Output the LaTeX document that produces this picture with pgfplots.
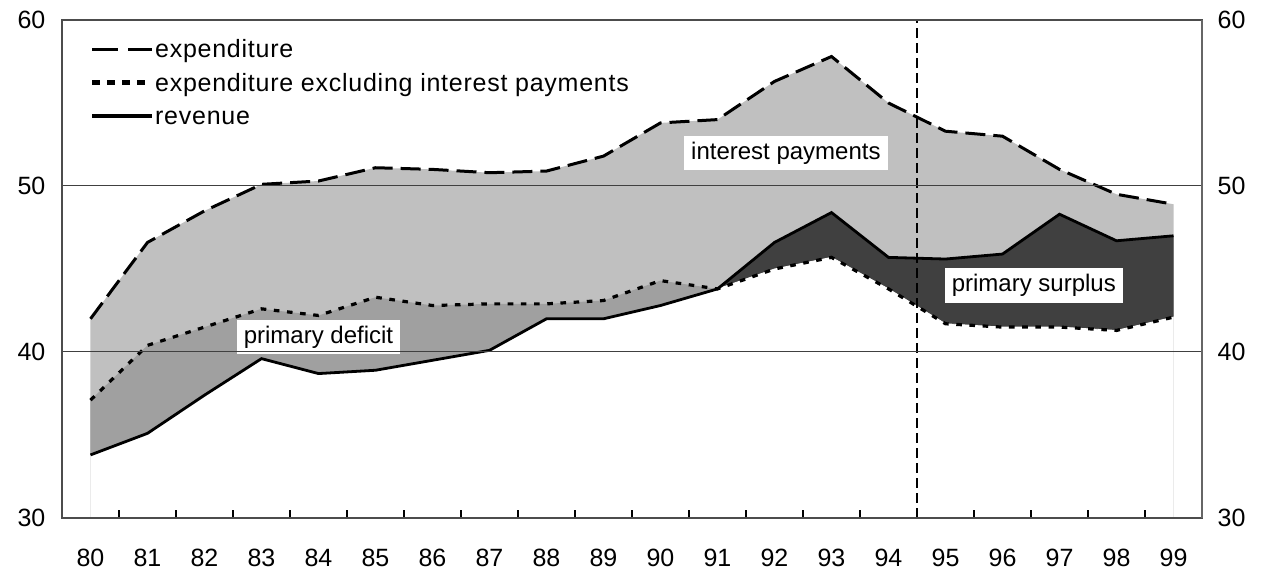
\documentclass[border=0pt]{standalone}
\usepackage{pgfplots}
\pgfplotsset{compat=1.18}
\usepackage{pgfplotstable}
\usepackage{fontspec}
\setmainfont{Liberation Sans}
\newfontfamily\legfont{Liberation Sans}[LetterSpace=3]

\pgfplotstableread{
year exp excl rev
80 42.0 37.1 33.8
81 46.6 40.4 35.1
82 48.5 41.5 37.4
83 50.1 42.6 39.6
84 50.3 42.2 38.7
85 51.1 43.3 38.9
86 51.0 42.8 39.5
87 50.8 42.9 40.1
88 50.9 42.9 42.0
89 51.8 43.1 42.0
90 53.8 44.3 42.8
91 54.0 43.8 43.8
92 56.3 45.0 46.6
93 57.8 45.7 48.4
94 55.0 43.8 45.7
95 53.3 41.7 45.6
96 53.0 41.5 45.9
97 51.0 41.5 48.3
98 49.5 41.3 46.7
99 48.9 42.1 47.0
}\data

\definecolor{lgray}{HTML}{C0C0C0}
\definecolor{mgray}{HTML}{A0A0A0}
\definecolor{dgray}{HTML}{404040}

\begin{document}
\begin{tikzpicture}
\begin{axis}[name=main, scale only axis, width=570pt, height=249pt,
  xmin=79.5, xmax=99.5, ymin=30, ymax=60,
  xtick={80,...,99}, ytick={30,40,50,60},
  minor xtick={80.5,81.5,...,98.5},
  major tick length=0pt, minor tick length=4pt,
  tick align=inside, xtick pos=bottom, ytick pos=left,
  minor tick style={black, line width=0.8pt},
  ymajorgrids, grid style={black!75, line width=0.5pt},
  axis on top,
  axis line style={black!70, line width=0.7pt},
  /pgf/number format/assume math mode=true,
  ticklabel style={font=\fontsize{12.5}{14}\selectfont},
  xticklabel style={yshift=-12pt},
  yticklabel style={xshift=-4.8pt},
  legend style={at={(0.024,0.966)}, anchor=north west, draw=none, fill=none,
    font=\legfont\fontsize{12.5}{14}\selectfont, row sep=4.3pt, column sep=0pt,
    inner sep=0pt, nodes={inner sep=0.5pt}},
  legend cell align=left,
  legend image code/.code={\draw[#1] (0pt,0pt) -- (30pt,0pt);},
]
\addplot[draw=none, fill=lgray, forget plot] table[x=year,y=exp]{\data} \closedcycle;
\addplot[draw=none, fill=mgray, forget plot, restrict x to domain=80:91] table[x=year,y=excl]{\data} \closedcycle;
\addplot[draw=none, fill=dgray, forget plot, restrict x to domain=91:99] table[x=year,y=rev]{\data} \closedcycle;
\addplot[draw=white, line width=0.4pt, fill=white, forget plot, restrict x to domain=80:91] table[x=year,y=rev]{\data} \closedcycle;
\addplot[draw=white, line width=0.4pt, fill=white, forget plot, restrict x to domain=91:99] table[x=year,y=excl]{\data} \closedcycle;

\addplot[black!8, line width=0.6pt, forget plot] coordinates {(80,30) (80,33.8)};
\addplot[black!8, line width=0.6pt, forget plot] coordinates {(99,30) (99,42.1)};

\addplot[black, line width=0.6pt, dash pattern=on 5pt off 2.5pt, forget plot] coordinates {(94.5,30) (94.5,60)};

\addplot[black, line width=1.5pt, dash pattern=on 10pt off 4pt,
  legend image code/.code={\draw[black, line width=1.8pt, dash pattern=on 13pt off 5pt] (0pt,0pt) -- (30pt,0pt);}]
  table[x=year,y=exp]{\data};
\addlegendentry{\strut expenditure}
\addplot[black, line width=1.6pt, dash pattern=on 2.8pt off 3.8pt,
  legend image code/.code={\draw[black, line width=2.6pt, dash pattern=on 4pt off 3.5pt] (0pt,0pt) -- (27pt,0pt);}]
  table[x=year,y=excl]{\data};
\addlegendentry{\strut expenditure excluding interest payments}
\addplot[black, line width=1.4pt,
  legend image code/.code={\draw[black, line width=1.8pt] (0pt,0pt) -- (30pt,0pt);}]
  table[x=year,y=rev]{\data};
\addlegendentry{\strut revenue}

\node[fill=white, inner xsep=3.5pt, inner ysep=3pt, font=\fontsize{12}{14}\selectfont] at (axis cs:92.2,52.0) {interest payments};
\node[fill=white, inner xsep=3.5pt, inner ysep=3pt, font=\fontsize{12}{14}\selectfont] at (axis cs:84.0,40.9) {primary deficit};
\node[fill=white, inner xsep=3.5pt, inner ysep=3pt, font=\fontsize{12}{14}\selectfont] at (axis cs:96.55,44.0) {primary surplus};
\end{axis}

\begin{axis}[scale only axis, width=570pt, height=249pt,
  at={(main.south west)}, anchor=south west,
  xmin=79.5, xmax=99.5, ymin=30, ymax=60,
  axis x line=none, axis y line*=right,
  ytick={30,40,50,60}, major tick length=0pt,
  axis line style={black!60, line width=0.7pt},
  /pgf/number format/assume math mode=true,
  ticklabel style={font=\fontsize{12.5}{14}\selectfont},
  yticklabel style={xshift=4.3pt},
]
\addplot[draw=none] coordinates {(80,30)};
\end{axis}

\pgfresetboundingbox
\path[use as bounding box] ([shift={(-31pt,-26.5pt)}]main.south west) rectangle ([shift={(31pt,10pt)}]main.north east);
\end{tikzpicture}
\end{document}
